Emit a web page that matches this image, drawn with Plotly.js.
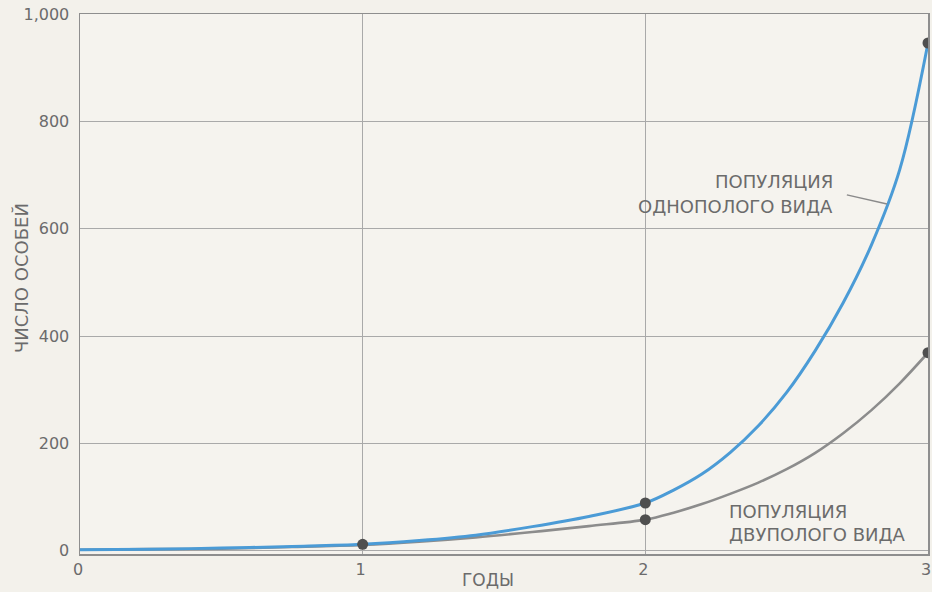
<!DOCTYPE html>
<html>
<head>
<meta charset="utf-8">
<script src="https://cdn.plot.ly/plotly-3.0.1.min.js"></script>
<style>
  html, body { margin: 0; padding: 0; background: #f3f1eb; }
  #chart { width: 932px; height: 592px; }
</style>
</head>
<body>
<div id="chart"></div>
<script>
// Years and population counts for each species
const asexYears = [0, 0.25, 0.5, 0.75, 1, 1.2, 1.4, 1.6, 1.8, 2, 2.1, 2.2, 2.3, 2.4, 2.5, 2.6, 2.7, 2.8, 2.9, 3];
const asexCounts = [2, 3, 5, 8, 12, 19, 29, 45, 64, 89, 113, 143, 183, 233, 295, 372, 462, 570, 710, 946];

const sexYears = [0, 0.25, 0.5, 0.75, 1, 1.2, 1.4, 1.6, 1.8, 2, 2.1, 2.2, 2.3, 2.4, 2.5, 2.6, 2.7, 2.8, 2.9, 3];
const sexCounts = [2, 3, 4, 7, 11, 17, 25, 35, 46, 58, 71, 87, 106, 127, 152, 182, 219, 262, 312, 369];

// Marked yearly counts
const dotYears = [1, 2, 2, 3, 3];
const dotCounts = [12, 89, 58, 946, 369];

const yTicks = [0, 200, 400, 600, 800, 1000];
const xTicks = [0, 1, 2, 3];

const textColor = '#6b6b6b';
const fontFamily = 'DejaVu Sans, Verdana, sans-serif';

const traces = [
  {
    x: sexYears, y: sexCounts, mode: 'lines', type: 'scatter',
    line: { color: '#8c8c8c', width: 2.6, shape: 'spline', smoothing: 1 },
    hoverinfo: 'skip'
  },
  {
    x: asexYears, y: asexCounts, mode: 'lines', type: 'scatter',
    line: { color: '#4b9bd6', width: 3, shape: 'spline', smoothing: 1 },
    hoverinfo: 'skip'
  },
  {
    x: dotYears, y: dotCounts, mode: 'markers', type: 'scatter',
    marker: { color: '#4f4f4f', size: 11 },
    hoverinfo: 'skip'
  }
];

const label = (text, x, y, anchor) => ({
  text: text, xref: 'paper', yref: 'paper', x: x, y: y,
  xanchor: anchor, yanchor: 'middle', showarrow: false,
  font: { family: fontFamily, size: 18, color: textColor }
});

const layout = {
  width: 932, height: 592,
  margin: { l: 80, r: 4, t: 14, b: 38 },
  paper_bgcolor: '#f3f1eb',
  plot_bgcolor: '#f5f3ee',
  showlegend: false,
  font: { family: fontFamily, color: textColor, size: 16 },
  xaxis: {
    range: [0, 3], tickvals: xTicks, ticktext: xTicks.map(String),
    showgrid: true, gridcolor: '#a9a9a9', gridwidth: 1,
    zeroline: false, showline: true, mirror: true,
    linecolor: '#8e8e8e', linewidth: 1.5, ticks: '',
    ticklabeloverflow: 'allow', ticklabelshift: -2,
    tickfont: { family: fontFamily, size: 16, color: textColor }
  },
  yaxis: {
    range: [-6, 1000], tickvals: yTicks, tickformat: ',d',
    showgrid: true, gridcolor: '#a9a9a9', gridwidth: 1,
    zeroline: false, showline: true, mirror: true,
    linecolor: '#8e8e8e', linewidth: 1.5, ticks: '',
    ticklabelstandoff: 6,
    tickfont: { family: fontFamily, size: 16, color: textColor }
  },
  shapes: [
    {
      type: 'line', xref: 'x', yref: 'y',
      x0: 2.713, y0: 663, x1: 2.855, y1: 646,
      line: { color: '#8a8a8a', width: 1.5 }
    }
  ],
  annotations: [
    label('ПОПУЛЯЦИЯ', 0.8903, 0.689, 'right'),
    label('ОДНОПОЛОГО ВИДА', 0.8903, 0.6426, 'right'),
    label('ПОПУЛЯЦИЯ', 0.763, 0.0796, 'left'),
    label('ДВУПОЛОГО ВИДА', 0.763, 0.0352, 'left'),
    {
      text: 'ГОДЫ', xref: 'paper', yref: 'paper', x: 0.481, y: -0.048,
      xanchor: 'center', yanchor: 'middle', showarrow: false,
      font: { family: fontFamily, size: 17, color: textColor }
    },
    {
      text: 'ЧИСЛО ОСОБЕЙ', xref: 'paper', yref: 'paper', x: -0.0696, y: 0.511,
      xanchor: 'center', yanchor: 'middle', showarrow: false, textangle: -90,
      font: { family: fontFamily, size: 18, color: textColor }
    }
  ]
};

Plotly.newPlot('chart', traces, layout, { staticPlot: true, displayModeBar: false });
</script>
</body>
</html>
